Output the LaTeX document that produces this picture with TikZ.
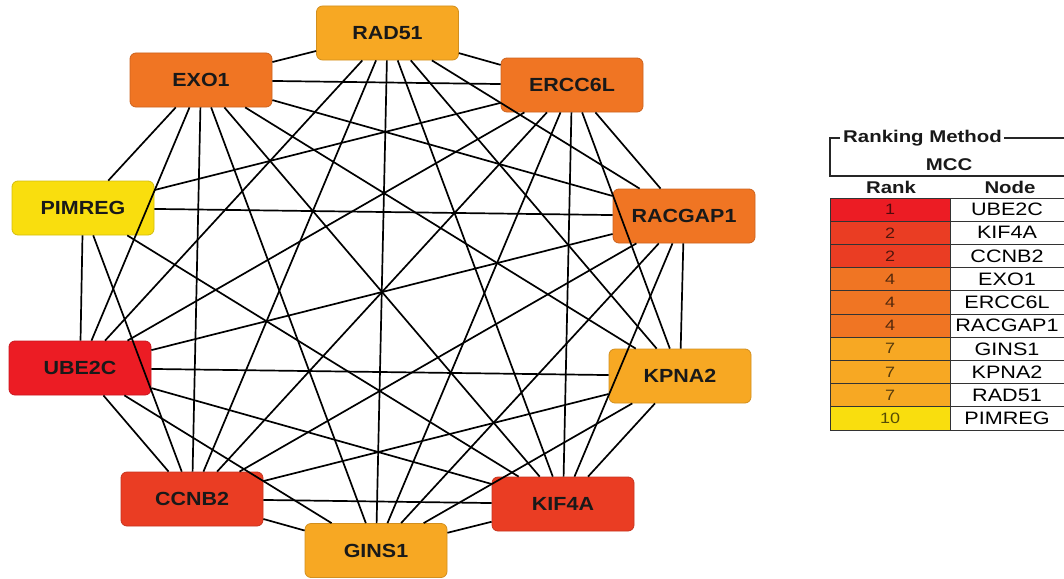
\documentclass[tikz,border=0pt]{standalone}
\usepackage{fontspec}
\setmainfont{Liberation Sans}
\newfontfamily\gfont[FakeStretch=1.13]{Liberation Sans}
\newfontfamily\lfont[FakeStretch=1.2]{Liberation Sans}
\definecolor{cR1}{HTML}{EC1C24}
\definecolor{cR2}{HTML}{EA3D23}
\definecolor{cR4}{HTML}{F07523}
\definecolor{cR7}{HTML}{F7A823}
\definecolor{cR10}{HTML}{F9DE0E}
\definecolor{gridc}{HTML}{333333}
\begin{document}
\begin{tikzpicture}[x=1pt,y=-1pt,
  gnode/.style={rounded corners=6pt, minimum width=142pt, minimum height=54pt,
    draw=#1!85!black, fill=#1, line width=0.8pt,
    font=\gfont\bfseries\fontsize{19}{19}\selectfont, text=black!90},
  edge/.style={line width=1.7pt, black},
  rankcell/.style={draw=gridc, line width=0.9pt, fill=#1, minimum width=120pt, minimum height=23.2pt,
    inner sep=0pt, font=\lfont\fontsize{15}{15}\selectfont, text=black, text opacity=0.65},
  namecell/.style={draw=gridc, line width=0.9pt, fill=white, minimum width=114pt, minimum height=23.2pt,
    inner sep=0pt, font=\lfont\fontsize{18}{18}\selectfont, text=black},
  hdr/.style={font=\lfont\bfseries\fontsize{17}{17}\selectfont, inner sep=0pt, text=black!90},
  frame/.style={line width=1.5pt, black!85}]
\useasboundingbox (0,0) rectangle (1064,578);

% network nodes
\node[gnode=cR7]  (rad)  at (387.5,33)  {RAD51};
\node[gnode=cR4]  (exo)  at (201,80)    {EXO1};
\node[gnode=cR4]  (ercc) at (572,85)    {ERCC6L};
\node[gnode=cR10] (pim)  at (83,208)    {PIMREG};
\node[gnode=cR4]  (rac)  at (684,216)   {RACGAP1};
\node[gnode=cR1]  (ube)  at (80,368)    {UBE2C};
\node[gnode=cR7]  (kpna) at (680,376)   {KPNA2};
\node[gnode=cR2]  (ccnb) at (192,499)   {CCNB2};
\node[gnode=cR2]  (kif)  at (563,504)   {KIF4A};
\node[gnode=cR7]  (gins) at (376,550.5) {GINS1};

% edges
\foreach \a/\b in {
  rad/exo, rad/ercc, rad/rac, rad/ube, rad/kpna, rad/ccnb, rad/kif, rad/gins,
  exo/ercc, exo/pim, exo/rac, exo/ube, exo/kpna, exo/ccnb, exo/kif, exo/gins,
  ercc/pim, ercc/rac, ercc/ube, ercc/kpna, ercc/ccnb, ercc/kif, ercc/gins,
  pim/rac, pim/ube, pim/ccnb, pim/kif,
  rac/ube, rac/kpna, rac/ccnb, rac/kif, rac/gins,
  ube/kpna, ube/ccnb, ube/kif, ube/gins,
  kpna/ccnb, kpna/kif, kpna/gins,
  ccnb/kif, ccnb/gins,
  kif/gins}
  \draw[edge] (\a) -- (\b);

% legend header
\node[hdr, anchor=base west] (rm) at (843,142) {Ranking Method};
\node[hdr, anchor=base] (mcc) at (949,170) {MCC};
\draw[frame] (840,138) -- (830,138) -- (830,176) -- (1064,176);
\draw[frame] (rm.east |- 0,138) ++(2,0) -- (1064,138);
\node[hdr, anchor=base] (rk) at (891,193) {Rank};
\node[hdr, anchor=base] (nd) at (1010,193) {Node};

% legend table
\foreach \r/\n/\c [count=\k] in {1/UBE2C/cR1,2/KIF4A/cR2,2/CCNB2/cR2,4/EXO1/cR4,4/ERCC6L/cR4,4/RACGAP1/cR4,7/GINS1/cR7,7/KPNA2/cR7,7/RAD51/cR7,10/PIMREG/cR10}{
  \node[rankcell=\c] (r\k) at (890,{198+11.6+(\k-1)*23.2}) {\r};
  \node[namecell] (n\k) at (1007,{198+11.6+(\k-1)*23.2}) {\n};
}
\end{tikzpicture}
\end{document}
